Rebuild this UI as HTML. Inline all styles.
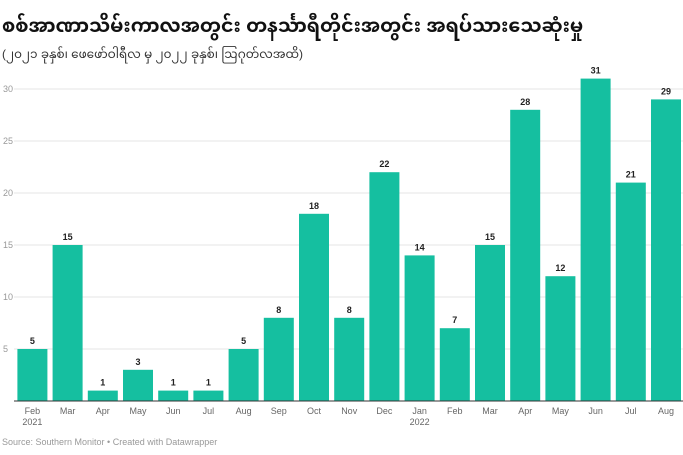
<!DOCTYPE html>
<html><head><meta charset="utf-8">
<style>
body{margin:0;background:#fff;width:683px;height:455px;overflow:hidden;font-family:"Liberation Sans","Noto Sans Myanmar","Padauk",sans-serif;}
.t{position:absolute;left:2px;top:8px;font-size:19px;font-weight:bold;color:#111;white-space:nowrap;}
.s{position:absolute;left:2px;top:43px;font-size:12px;color:#333;white-space:nowrap;}
.src{position:absolute;left:2px;top:437px;font-size:9px;color:#999;}
svg{position:absolute;left:0;top:0;}
</style></head><body>
<div class="t">စစ်အာဏာသိမ်းကာလအတွင်း တနင်္သာရီတိုင်းအတွင်း အရပ်သားသေဆုံးမှု</div>
<div class="s">(၂၀၂၁ ခုနှစ်၊ ဖေဖော်ဝါရီလ မှ ၂၀၂၂ ခုနှစ်၊ ဩဂုတ်လအထိ)</div>
<div class="src">Source: Southern Monitor • Created with Datawrapper</div>
<svg id="c" width="683" height="455"></svg>
<script>
const categories=["Feb","Mar","Apr","May","Jun","Jul","Aug","Sep","Oct","Nov","Dec","Jan","Feb","Mar","Apr","May","Jun","Jul","Aug"];
const yearLabels=["2021","","","","","","","","","","","2022","","","","","","",""];
const values=[5,15,1,3,1,1,5,8,18,8,22,14,7,15,28,12,31,21,29];
const ticks=[5,10,15,20,25,30];
const NS="http://www.w3.org/2000/svg";
const svg=document.getElementById('c');
const base=401,k=10.4,left=15,step=35.2,bw=30;
const y=v=>base-v*k;
const x=i=>left+i*step+2.4;
function mk(t,a){const e=document.createElementNS(NS,t);for(const n in a)e.setAttribute(n,a[n]);svg.appendChild(e);return e;}
ticks.forEach(t=>{
 const g=mk('line',{x1:14,x2:683,y1:y(t),y2:y(t),stroke:'#e4e4e4','stroke-width':1});
 
 
 const l=mk('text',{x:3,y:y(t)+3,'font-size':9,fill:'#999','font-family':'Liberation Sans'});
 l.textContent=t;
 
 
});
values.forEach((v,i)=>{
 const r=mk('rect',{x:x(i),y:y(v),width:bw,height:v*k,fill:'#15bfa0'});
 
 
 const t=mk('text',{x:x(i)+bw/2,y:y(v)-5,'font-size':9,'font-weight':'bold','text-anchor':'middle',fill:'#222','font-family':'Liberation Sans'});
 t.textContent=v;
 
 
 const c=mk('text',{x:x(i)+bw/2,y:414,'font-size':9,'text-anchor':'middle',fill:'#666','font-family':'Liberation Sans'});
 c.textContent=categories[i];
 
 
 if(yearLabels[i]){
  const yl=mk('text',{x:x(i)+bw/2,y:425,'font-size':9,'text-anchor':'middle',fill:'#666','font-family':'Liberation Sans'});
  yl.textContent=yearLabels[i];
  
  
 }
});
const ax=mk('line',{x1:14,x2:683,y1:base,y2:base,stroke:'#333','stroke-width':1});


</script>
</body></html>
